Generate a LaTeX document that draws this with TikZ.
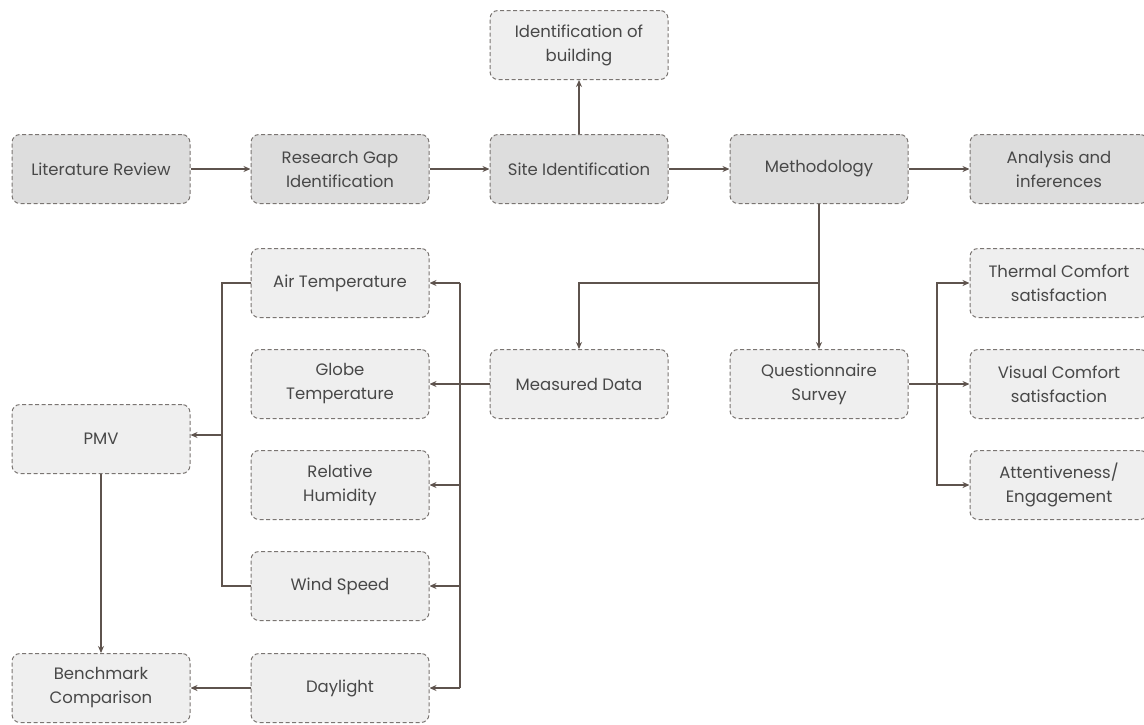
\documentclass[tikz,border=0pt]{standalone}
\usepackage{fontspec}
\setmainfont{Poppins}
\usepackage{tikz}
\usetikzlibrary{arrows.meta,positioning,shapes}
\usepackage{xcolor}
\definecolor{lightbox}{HTML}{EFEFEF}
\definecolor{darkbox}{HTML}{DDDDDD}
\definecolor{boxline}{HTML}{7A7572}
\definecolor{linkcol}{HTML}{5E534D}
\definecolor{txtcol}{HTML}{484848}

\begin{document}
\begin{tikzpicture}[x=1pt, y=-1pt,
  box/.style={rectangle, rounded corners=8pt, draw=boxline, dashed, dash pattern=on 4pt off 2.5pt, line width=1pt,
    fill=lightbox, minimum width=178pt, minimum height=69pt, align=center, text=txtcol,
    font=\fontsize{16.5}{24}\selectfont},
  topbox/.style={box, fill=darkbox},
  link/.style={draw=linkcol, line width=1.2pt, -{Stealth[length=7pt,width=6pt]}},
  plain/.style={draw=linkcol, line width=1.2pt}]
  \useasboundingbox (0,0) rectangle (1144,724);
  % top row
  \node[topbox] (lit) at (101,169) {Literature Review};
  \node[topbox] (gap) at (340,169) {Research Gap\\Identification};
  \node[topbox] (site) at (579,169) {Site Identification};
  \node[topbox] (meth) at (819,169) {Methodology};
  \node[topbox] (ana) at (1059,169) {Analysis and\\inferences};
  \node[box] (bldg) at (579,45) {Identification of\\building};
  % measured parameters
  \node[box] (air) at (340,283) {Air Temperature};
  \node[box] (globe) at (340,384) {Globe\\Temperature};
  \node[box] (rh) at (340,485) {Relative\\Humidity};
  \node[box] (wind) at (340,586) {Wind Speed};
  \node[box] (day) at (340,688) {Daylight};
  \node[box] (pmv) at (101,439) {PMV};
  \node[box] (bench) at (101,688) {Benchmark\\Comparison};
  \node[box] (meas) at (579,384) {Measured Data};
  \node[box] (quest) at (819,384) {Questionnaire\\Survey};
  % survey outcomes
  \node[box] (therm) at (1059,283) {Thermal Comfort\\satisfaction};
  \node[box] (vis) at (1059,384) {Visual Comfort\\satisfaction};
  \node[box] (att) at (1059,485) {Attentiveness/\\Engagement};
  \coordinate (split) at (819,283);
  \coordinate (trunk) at (460,283);
  \coordinate (fork) at (937,384);
  \coordinate (join) at (222,435);

  \draw[link] (lit) -- (gap);
  \draw[link] (gap) -- (site);
  \draw[link] (site) -- (meth);
  \draw[link] (meth) -- (ana);
  \draw[link] (site) -- (bldg);
  \draw[link] (meth) -- (quest);
  \draw[link] (split) -| (meas);
  \draw[link] (meas) -- (globe);
  \draw[plain] (trunk) -- (460,688);
  \draw[link] (trunk) -- (air);
  \draw[link] (460,485) -- (rh);
  \draw[link] (460,586) -- (wind);
  \draw[link] (460,688) -- (day);
  \draw[plain] (air.west) -| (join) |- (wind.west);
  \draw[link] (join) -- (pmv.east |- join);
  \draw[link] (pmv) -- (bench);
  \draw[link] (day) -- (bench);
  \draw[plain] (quest) -- (fork);
  \draw[link] (fork) |- (therm.west);
  \draw[link] (fork) -- (vis);
  \draw[link] (fork) |- (att.west);
\end{tikzpicture}
\end{document}
